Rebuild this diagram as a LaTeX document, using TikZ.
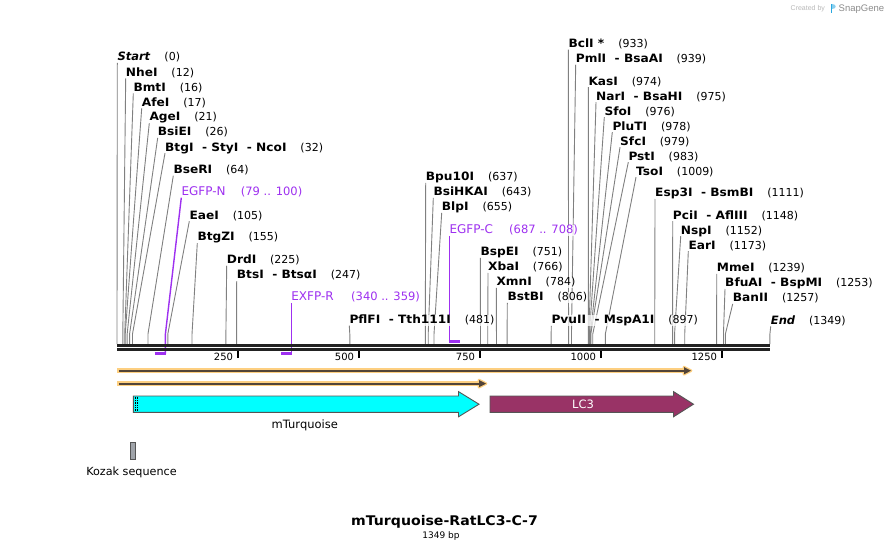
\documentclass[tikz,border=0pt]{standalone}
\usepackage{fontspec}
\setmainfont[BoldFeatures={FakeStretch=1.06}]{DejaVu Sans}
\newfontfamily\wmfont{Liberation Sans}
\usetikzlibrary{calc}
\pgfdeclarelayer{paper}
\pgfdeclarelayer{bg}
\pgfsetlayers{paper,bg,main}
\definecolor{enzgray}{RGB}{128,128,128}
\definecolor{primer}{RGB}{158,48,240}
\definecolor{bbone}{RGB}{34,34,34}
\definecolor{orfout}{RGB}{253,207,128}
\definecolor{orfin}{RGB}{82,68,56}
\definecolor{turq}{RGB}{0,255,255}
\definecolor{lcthree}{RGB}{153,51,102}
\definecolor{featedge}{RGB}{85,85,85}
\definecolor{kozakfill}{RGB}{160,164,170}
\definecolor{wmlight}{RGB}{185,185,185}
\definecolor{wmdark}{RGB}{140,140,140}
\definecolor{wmblue}{RGB}{40,168,224}
\tikzset{
  halo/.style={inner sep=0pt, fill=white, fill opacity=0.75, text opacity=1},
  enzname/.style={halo, anchor=base west, text height=8.6pt, text depth=2pt, font=\fontsize{11.5}{13}\selectfont\bfseries},
  enznum/.style={halo, anchor=base west, text height=8.6pt, text depth=2pt, font=\fontsize{11}{13}\selectfont},
  enzline/.style={draw=enzgray, line width=0.9pt},
  primname/.style={halo, anchor=base west, text height=8.6pt, text depth=2pt, text=primer, font=\fontsize{12}{13}\selectfont},
  primnum/.style={halo, anchor=base west, text height=8.6pt, text depth=2pt, text=primer, font=\fontsize{11.5}{13}\selectfont},
  primline/.style={draw=primer, line width=1.4pt},
  primbar/.style={draw=primer, line width=2.4pt},
  ticklab/.style={anchor=base east, inner sep=0pt, font=\fontsize{10}{12}\selectfont},
  featlab/.style={inner sep=0pt, font=\fontsize{11.5}{13}\selectfont},
  featshape/.style={draw=featedge, line width=0.9pt, line join=miter},
}
\newcommand\enz[6]{%
  \node[enzname] (e#1) at (#2,#3+4.2) {#4};
  \node[enznum] (n#1) at ($(e#1.base east)+(13.5,0)$) {#5};
  \coordinate (k#1) at ({117+0.484*#6},334);
  \coordinate (s#1) at ({117+0.484*#6},344);
  \begin{pgfonlayer}{bg}
    \draw[enzline] (e#1.south west) -- (k#1) -- (s#1);
  \end{pgfonlayer}}
\newcommand\orf[3]{%
  \coordinate (o#1a) at (117,#2);
  \coordinate (o#1b) at (#3-6.5,#2);
  \coordinate (o#1t) at (#3,#2);
  \draw[orfout, line width=5.2pt] (o#1a) -- (o#1b);
  \filldraw[orfout, line width=2.6pt, line join=round] (#3-7,#2-3.6) -- (o#1t) -- (#3-7,#2+3.6) -- cycle;
  \draw[orfin, line width=1.8pt] (119,#2) -- (o#1b);
  \fill[orfin] (#3-7,#2-3.6) -- (o#1t) -- (#3-7,#2+3.6) -- cycle;}
\begin{document}
\begin{tikzpicture}[x=1pt,y=-1pt]
\useasboundingbox (0,0) rectangle (888,554);
\begin{pgfonlayer}{paper}
\fill[white] (0,0) rectangle (888,554);
\end{pgfonlayer}

% restriction sites, left group
\enz{1}{117.3}{56.5}{\textit{Start}}{(0)}{0}
\enz{2}{125.7}{72}{NheI}{(12)}{12}
\enz{3}{133.3}{87}{BmtI}{(16)}{16}
\enz{4}{141.7}{102}{AfeI}{(17)}{17}
\enz{5}{149.3}{116.7}{AgeI}{(21)}{21}
\enz{6}{157.7}{131.5}{BsiEI}{(26)}{26}
\enz{7}{165}{146.8}{BtgI\ \ - StyI\ \ - NcoI}{(32)}{32}
\enz{8}{173.3}{169.3}{BseRI}{(64)}{64}
\enz{9}{189.3}{214.8}{EaeI}{(105)}{105}
\enz{10}{197.3}{236.7}{BtgZI}{(155)}{155}
\enz{11}{226.7}{259.3}{DrdI}{(225)}{225}
\enz{12}{236.7}{274.7}{BtsI\ \ - BtsαI}{(247)}{247}
\enz{13}{349.3}{319.3}{PflFI\ \ - Tth111I}{(481)}{481}
% middle group
\enz{14}{425.7}{176.5}{Bpu10I}{(637)}{637}
\enz{15}{433.3}{191.5}{BsiHKAI}{(643)}{643}
\enz{16}{441.7}{206.5}{BlpI}{(655)}{655}
\enz{17}{480.3}{251.5}{BspEI}{(751)}{751}
\enz{18}{488}{266.5}{XbaI}{(766)}{766}
\enz{19}{496.3}{281.5}{XmnI}{(784)}{784}
\enz{20}{507.3}{296.5}{BstBI}{(806)}{806}
\enz{21}{551.3}{319.5}{PvuII\ \ - MspA1I}{(897)}{897}
% right group
\enz{22}{568.3}{43.2}{BclI *}{(933)}{933}
\enz{23}{575.7}{58.2}{PmlI\ \ - BsaAI}{(939)}{939}
\enz{24}{588.3}{80.8}{KasI}{(974)}{974}
\enz{25}{596}{95.8}{NarI\ \ - BsaHI}{(975)}{975}
\enz{26}{604.3}{110.8}{SfoI}{(976)}{976}
\enz{27}{612.3}{125.8}{PluTI}{(978)}{978}
\enz{28}{620}{140.8}{SfcI}{(979)}{979}
\enz{29}{628.3}{155.8}{PstI}{(983)}{983}
\enz{30}{636}{170.8}{TsoI}{(1009)}{1009}
\enz{31}{655}{192.5}{Esp3I\ \ - BsmBI}{(1111)}{1111}
\enz{32}{672.7}{214.8}{PciI\ \ - AflIII}{(1148)}{1148}
\enz{33}{680.7}{229.8}{NspI}{(1152)}{1152}
\enz{34}{688.3}{244.8}{EarI}{(1173)}{1173}
\enz{35}{716.7}{267.5}{MmeI}{(1239)}{1239}
\enz{36}{725}{282.5}{BfuAI\ \ - BspMI}{(1253)}{1253}
\enz{37}{732.7}{297.5}{BanII}{(1257)}{1257}
\enz{38}{770.7}{320}{\textit{End}}{(1349)}{1349}

% primers
\node[primname] (pN) at (181.3,195.5) {EGFP-N};
\node[primnum] (pNn) at (240.7,195.5) {(79 .. 100)};
\coordinate (pNk) at (165.4,334);
\coordinate (pNs) at (165.4,353.5);
\coordinate (pNb) at (154.8,353.5);
\coordinate (pNe) at (166.1,353.5);
\node[primname] (pR) at (291.2,300.7) {EXFP-R};
\node[primnum] (pRn) at (351,300.7) {(340 .. 359)};
\coordinate (pRs) at (291.2,353.5);
\coordinate (pRb) at (281.1,353.5);
\coordinate (pRe) at (291.9,353.5);
\node[primname] (pC) at (449.4,233.7) {EGFP-C};
\node[primnum] (pCn) at (509,233.7) {(687 .. 708)};
\coordinate (pCs) at (449.4,341.3);
\coordinate (pCb) at (448.7,341.3);
\coordinate (pCe) at (459.7,341.3);
\begin{pgfonlayer}{bg}
  \draw[primline] (pN.south west) -- (pNk) -- (pNs);
  \draw[primline] (pR.south west) -- (pRs);
  \draw[primline] (pC.south west) -- (pCs);
\end{pgfonlayer}
\draw[primbar] (pNb) -- (pNe);
\draw[primbar] (pRb) -- (pRe);
\draw[primbar] (pCb) -- (pCe);

% backbone
\draw[bbone, line width=2.6pt] (117,345.2) -- (770,345.2);
\draw[bbone, line width=2.6pt] (117,349.4) -- (770,349.4);
\foreach \t in {250,500,750,1000,1250} {
  \draw[black, line width=1.7pt] ({117+0.484*(\t-0.5)},351) -- ({117+0.484*(\t-0.5)},357.5);
  \node[ticklab] (t\t) at ({117+0.484*(\t-0.5)-4.5},360.2) {\t};
}

% ORFs
\orf{1}{370.7}{691}
\orf{2}{383.6}{486}

% features
\draw[featshape, fill=turq] (133.3,396) -- (458.5,396) -- (458.5,391.6) -- (479,404.2) -- (458.5,416.8) -- (458.5,412.4) -- (133.3,412.4) -- cycle;
\draw[black, densely dotted, line width=0.7pt] (135,396.6) -- (135,411.8);
\draw[black, densely dotted, line width=0.7pt] (137.2,396.6) -- (137.2,411.8);
\node[featlab] (mt) at (304.8,425.5) {mTurquoise};
\draw[featshape, fill=lcthree] (490,396) -- (673.5,396) -- (673.5,391.6) -- (693.5,404.2) -- (673.5,416.8) -- (673.5,412.4) -- (490,412.4) -- cycle;
\node[featlab, text=white] (lc3) at (583,404.2) {LC3};
\draw[featshape, fill=kozakfill] (130.7,442.7) rectangle (135.7,459.3);
\node[featlab, font=\fontsize{11.2}{13}\selectfont] (kz) at (131.5,472.5) {Kozak sequence};

% title
\node[inner sep=0pt, font=\fontsize{13.3}{15}\selectfont\bfseries] (title) at (444.5,522) {mTurquoise-RatLC3-C-7};
\node[inner sep=0pt, font=\fontsize{9}{11}\selectfont] (len) at (441,536.5) {1349 bp};

% watermark
\node[inner sep=0pt, anchor=base west, text=wmlight, font=\wmfont\fontsize{7}{8}\selectfont] (wm1) at (790.5,10.8) {Created by};
\fill[wmblue] (830.5,3.5) rectangle (832.2,12.5);
\fill[wmblue!55] (832.2,3.5) .. controls (836.8,3.5) and (836.8,9) .. (832.2,9) -- cycle;
\node[inner sep=0pt, anchor=base west, text=wmdark, font=\wmfont\fontsize{9.5}{11}\selectfont] (wm2) at (838.5,11.3) {SnapGene};
\end{tikzpicture}
\end{document}
